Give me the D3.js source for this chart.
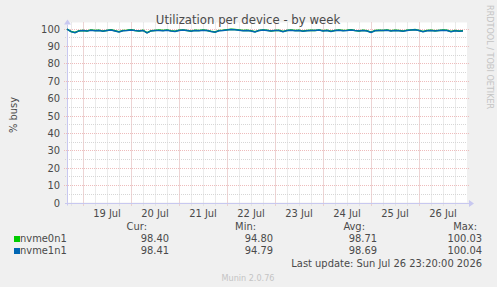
<!DOCTYPE html>
<html>
<head>
<meta charset="utf-8">
<script src="https://cdn.jsdelivr.net/npm/d3@7"></script>
<style>
  html, body { margin: 0; padding: 0; background: #f0f0f0; }
  svg { display: block; font-family: "DejaVu Sans Condensed", "DejaVu Sans", sans-serif; }
</style>
</head>
<body>
<svg id="chart" width="497" height="287"></svg>
<script>
// Samples every 2 hours, starting Sat Jul 18 16:00
const startTime = Date.UTC(2026, 6, 18, 16, 0);
const stepHours = 2;

const nvme1n1 = [
  99.6, 98.2, 97.6, 98.6, 98.8, 98.5, 99.0, 98.7, 98.9, 98.4,
  98.8, 99.1, 98.6, 98.0, 98.7, 98.9, 99.2, 98.8, 98.5, 98.9,
  97.5, 98.6, 98.8, 98.9, 98.7, 99.0, 98.6, 98.3, 98.9, 99.1,
  98.8, 98.4, 98.9, 98.7, 99.0, 98.8, 98.3, 97.9, 98.7, 98.9,
  99.2, 99.4, 99.3, 99.0, 98.7, 98.9, 98.6, 98.0, 98.8, 99.1,
  98.9, 98.5, 98.8, 98.9, 98.2, 98.8, 99.0, 98.7, 98.9, 98.4,
  98.7, 98.9, 98.8, 99.1, 98.6, 98.9, 98.3, 98.8, 99.0, 98.7,
  98.9, 99.2, 98.8, 98.5, 98.9, 98.6, 97.8, 98.7, 98.9, 98.8,
  99.0, 98.6, 98.9, 98.7, 98.4, 98.9, 99.1, 99.3, 98.8, 98.2,
  98.7, 98.9, 98.6, 98.8, 99.0, 98.9, 98.2, 98.7, 98.4, 98.6
];
const nvme0n1 = [
  99.7, 98.3, 97.7, 98.7, 98.9, 98.6, 99.2, 98.8, 99.0, 98.5,
  98.9, 99.3, 98.7, 98.1, 98.8, 99.0, 99.3, 98.9, 98.6, 99.0,
  97.6, 98.7, 98.9, 99.1, 98.8, 99.2, 98.7, 98.4, 99.0, 99.2,
  98.9, 98.5, 99.0, 98.8, 99.1, 98.9, 98.4, 98.0, 98.8, 99.0,
  99.3, 99.5, 99.4, 99.1, 98.8, 99.0, 98.7, 98.1, 98.9, 99.2,
  99.0, 98.6, 98.9, 99.0, 98.3, 98.9, 99.1, 98.8, 99.0, 98.5,
  98.8, 99.0, 98.9, 99.2, 98.7, 99.0, 98.4, 98.9, 99.1, 98.8,
  99.0, 99.3, 98.9, 98.6, 99.0, 98.7, 97.9, 98.8, 99.0, 98.9,
  99.1, 98.7, 99.0, 98.8, 98.5, 99.0, 99.2, 99.4, 98.9, 98.3,
  98.8, 99.0, 98.7, 98.9, 99.1, 99.0, 98.3, 98.8, 98.5, 98.7
];

const series = [
  { name: "nvme0n1", color: "#00cc00", values: nvme0n1, cur: "98.40", min: "94.80", avg: "98.71", max: "100.03" },
  { name: "nvme1n1", color: "#0066b3", values: nvme1n1, cur: "98.41", min: "94.79", avg: "98.69", max: "100.04" }
];

const yTicks = [0, 10, 20, 30, 40, 50, 60, 70, 80, 90, 100];
const dayLabels = ["19 Jul", "20 Jul", "21 Jul", "22 Jul", "23 Jul", "24 Jul", "25 Jul", "26 Jul"];

const svg = d3.select("#chart");
const textColor = "#4a4a4a";

const plot = { left: 67, right: 467, top: 28.5, bottom: 202.5 };

let x = d3.scaleUtc()
  .domain([new Date(startTime), new Date(Date.UTC(2026, 6, 27, 0, 0))])
  .range([plot.left, plot.right]);

let y = d3.scaleLinear()
  .domain([0, 100])
  .range([plot.bottom, plot.top]);

// plot background
svg.append("rect")
  .attr("x", plot.left).attr("y", y(100) - 6)
  .attr("width", plot.right - plot.left).attr("height", plot.bottom - y(100) + 6)
  .attr("fill", "#fff");

// minor grid
const minorColor = "#d6d6d6";
let minorX = d3.utcHour.every(6).range(x.domain()[0], x.domain()[1]);
svg.append("g").selectAll("line")
  .data(minorX)
  .enter().append("line")
    .attr("x1", d => Math.round(x(d)) + 0.5).attr("x2", d => Math.round(x(d)) + 0.5)
    .attr("y1", plot.bottom + 3).attr("y2", y(100) - 6)
    .attr("stroke", minorColor).attr("stroke-dasharray", "1,1");

let minorY = d3.range(5, 100, 10);
svg.append("g").selectAll("line")
  .data(minorY)
  .enter().append("line")
    .attr("x1", plot.left - 2).attr("x2", plot.right)
    .attr("y1", d => Math.round(y(d)) + 0.5).attr("y2", d => Math.round(y(d)) + 0.5)
    .attr("stroke", minorColor).attr("stroke-dasharray", "1,1");

// major grid
const majorColor = "#eebcbc";
let majorX = d3.utcDay.range(x.domain()[0], x.domain()[1]);
svg.append("g").selectAll("line")
  .data(majorX)
  .enter().append("line")
    .attr("x1", d => Math.round(x(d)) + 0.5).attr("x2", d => Math.round(x(d)) + 0.5)
    .attr("y1", plot.bottom + 3).attr("y2", y(100) - 6)
    .attr("stroke", majorColor).attr("stroke-dasharray", "1,1");

svg.append("g").selectAll("line")
  .data(yTicks.slice(1))
  .enter().append("line")
    .attr("x1", plot.left - 3).attr("x2", plot.right + 2)
    .attr("y1", d => Math.round(y(d)) + 0.5).attr("y2", d => Math.round(y(d)) + 0.5)
    .attr("stroke", majorColor).attr("stroke-dasharray", "1,1");

// axes lines with arrows
const axisColor = "#c8c8f0";
svg.append("line")
  .attr("x1", plot.left - 2).attr("x2", plot.right + 2)
  .attr("y1", Math.round(plot.bottom) + 0.5).attr("y2", Math.round(plot.bottom) + 0.5)
  .attr("stroke", axisColor);
svg.append("path")
  .attr("d", `M${plot.right + 2},${Math.round(plot.bottom) - 3}L${plot.right + 7},${Math.round(plot.bottom) + 0.5}L${plot.right + 2},${Math.round(plot.bottom) + 4}Z`)
  .attr("fill", axisColor);
svg.append("line")
  .attr("x1", plot.left + 0.5).attr("x2", plot.left + 0.5)
  .attr("y1", plot.bottom + 3).attr("y2", y(100) - 4)
  .attr("stroke", axisColor);
svg.append("path")
  .attr("d", `M${plot.left - 3},${y(100) - 4}L${plot.left + 0.5},${y(100) - 9}L${plot.left + 4},${y(100) - 4}Z`)
  .attr("fill", axisColor);

// y tick labels
svg.append("g").selectAll("text")
  .data(yTicks)
  .enter().append("text")
    .attr("x", 60).attr("y", d => y(d) + 4)
    .attr("text-anchor", "end")
    .attr("font-size", 11).attr("fill", textColor)
    .text(d => d);

// x labels at noon
let noons = majorX.map(d => d3.utcHour.offset(d, 12));
svg.append("g").selectAll("text")
  .data(noons)
  .enter().append("text")
    .attr("x", d => x(d)).attr("y", 217)
    .attr("text-anchor", "middle")
    .attr("font-size", 11).attr("fill", textColor)
    .text((d, i) => dayLabels[i]);

// lines
let line = d3.line()
  .x((d, i) => x(new Date(startTime + i * stepHours * 3600e3)))
  .y(d => y(d));

series.forEach(s => {
  svg.append("path")
    .datum(s.values)
    .attr("d", line)
    .attr("fill", "none")
    .attr("stroke", s.color)
    .attr("stroke-width", 1.5);
});

// title
svg.append("text")
  .attr("x", 248).attr("y", 24)
  .attr("text-anchor", "middle")
  .attr("font-size", 13).attr("fill", textColor)
  .text("Utilization per device - by week");

// y label
svg.append("text")
  .attr("transform", "translate(17,115) rotate(-90)")
  .attr("text-anchor", "middle")
  .attr("font-size", 11).attr("fill", textColor)
  .text("% busy");

// side watermark
svg.append("text")
  .attr("transform", "translate(487,5) rotate(90)")
  .attr("font-size", 9).attr("fill", "#c4c4c4")
  .text("RRDTOOL / TOBI OETIKER");

// legend
const cols = [
  { key: "cur", head: "Cur:", hx: 147, vx: 169 },
  { key: "min", head: "Min:", hx: 256, vx: 273 },
  { key: "avg", head: "Avg:", hx: 365, vx: 377 },
  { key: "max", head: "Max:", hx: 477, vx: 482 }
];
let legend = svg.append("g").attr("font-size", 11).attr("fill", textColor);
cols.forEach(c => {
  legend.append("text").attr("x", c.hx).attr("y", 230).attr("text-anchor", "end").text(c.head);
});
series.forEach((s, i) => {
  let ry = 242 + i * 12;
  legend.append("rect")
    .attr("x", 14).attr("y", ry - 6).attr("width", 6).attr("height", 6)
    .attr("fill", s.color);
  legend.append("text").attr("x", 20).attr("y", ry).text(s.name);
  cols.forEach(c => {
    legend.append("text").attr("x", c.vx).attr("y", ry).attr("text-anchor", "end").text(s[c.key]);
  });
});
legend.append("text").attr("x", 482).attr("y", 267).attr("text-anchor", "end")
  .text("Last update: Sun Jul 26 23:20:00 2026");

svg.append("text")
  .attr("x", 248).attr("y", 281)
  .attr("text-anchor", "middle")
  .attr("font-size", 9).attr("fill", "#c4c4c4")
  .text("Munin 2.0.76");
</script>
</body>
</html>
